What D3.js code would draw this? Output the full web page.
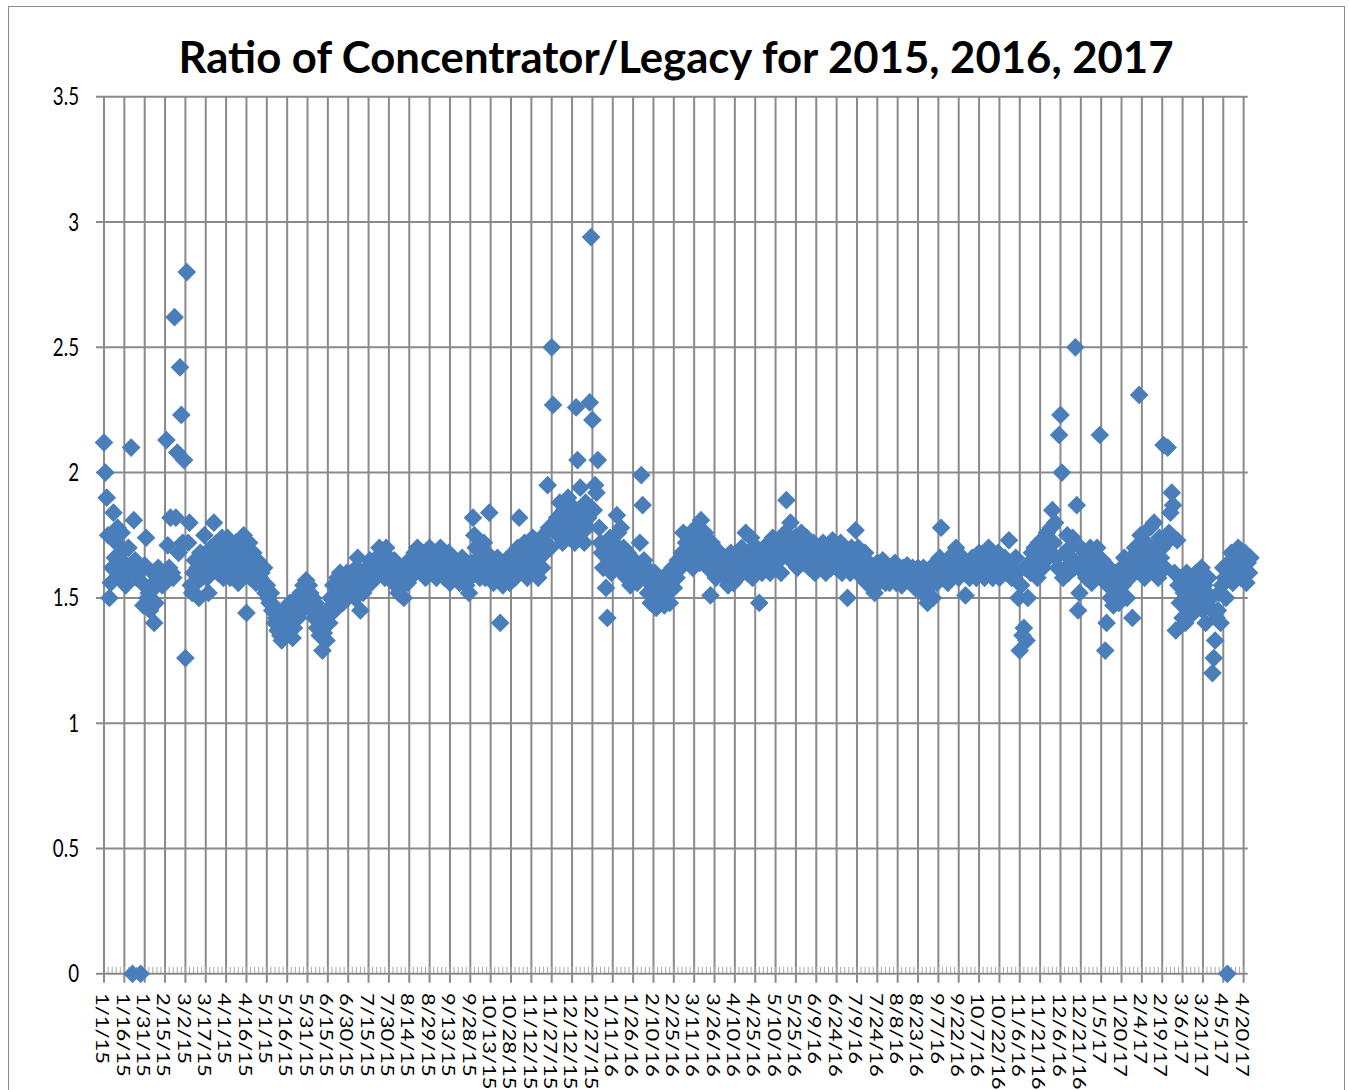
<!DOCTYPE html>
<html>
<head>
<meta charset="utf-8">
<script src="https://cdn.jsdelivr.net/npm/d3@7"></script>
<style>
  body { margin: 0; background: #fff; }
  svg { display: block; }
</style>
</head>
<body>
<svg id="chart" width="1349" height="1090"></svg>
<script>
// daily ratio values, one array per month
const jan15 = [2.12, 2.00, 1.90, 1.75, 1.50, 1.56, 1.62, 1.84, 1.66, 1.72, 1.78, 1.60, 1.68, 1.76, 1.58, 1.64, 1.55, 1.62, 1.70, 1.60, 2.10, 0, 1.81, 1.65, 1.58, 1.62, 1.60, 0, 1.56, 1.47, 1.63];
const feb15 = [1.74, 1.50, 1.52, 1.45, 1.55, 1.60, 1.40, 1.48, 1.55, 1.62, 1.60, 1.58, 1.55, 1.60, 1.56, 2.13, 1.71, 1.62, 1.82, 1.60, 1.58, 2.62, 1.82, 2.08, 1.68, 2.42, 2.23, 1.72];
const mar15 = [2.05, 1.26, 2.80, 1.72, 1.80, 1.55, 1.52, 1.60, 1.65, 1.56, 1.62, 1.50, 1.68, 1.58, 1.62, 1.75, 1.66, 1.58, 1.52, 1.60, 1.70, 1.62, 1.80, 1.65, 1.72, 1.60, 1.70, 1.62, 1.74, 1.58, 1.66];
const apr15 = [1.68, 1.74, 1.62, 1.58, 1.70, 1.66, 1.60, 1.72, 1.64, 1.56, 1.68, 1.62, 1.70, 1.75, 1.60, 1.44, 1.66, 1.72, 1.58, 1.64, 1.68, 1.60, 1.56, 1.65, 1.62, 1.58, 1.60, 1.55, 1.62, 1.52];
const may15 = [1.55, 1.50, 1.48, 1.52, 1.45, 1.47, 1.40, 1.42, 1.37, 1.44, 1.35, 1.33, 1.40, 1.38, 1.45, 1.36, 1.42, 1.48, 1.40, 1.34, 1.38, 1.45, 1.50, 1.42, 1.48, 1.52, 1.45, 1.55, 1.50, 1.57, 1.48];
const jun15 = [1.55, 1.52, 1.45, 1.50, 1.42, 1.48, 1.38, 1.45, 1.35, 1.40, 1.29, 1.36, 1.42, 1.33, 1.45, 1.40, 1.50, 1.47, 1.55, 1.45, 1.52, 1.58, 1.50, 1.60, 1.55, 1.48, 1.58, 1.52, 1.60, 1.55];
const jul15 = [1.55, 1.60, 1.52, 1.58, 1.50, 1.62, 1.66, 1.55, 1.45, 1.58, 1.52, 1.60, 1.55, 1.62, 1.58, 1.65, 1.56, 1.60, 1.63, 1.58, 1.66, 1.62, 1.70, 1.60, 1.68, 1.64, 1.58, 1.70, 1.62, 1.66, 1.60];
const aug15 = [1.62, 1.58, 1.65, 1.55, 1.60, 1.52, 1.58, 1.62, 1.55, 1.50, 1.60, 1.64, 1.56, 1.62, 1.58, 1.66, 1.60, 1.68, 1.63, 1.70, 1.62, 1.66, 1.60, 1.68, 1.64, 1.58, 1.66, 1.62, 1.70, 1.60, 1.65];
const sep15 = [1.62, 1.68, 1.58, 1.65, 1.60, 1.70, 1.62, 1.66, 1.58, 1.64, 1.60, 1.68, 1.56, 1.62, 1.66, 1.60, 1.58, 1.64, 1.62, 1.56, 1.60, 1.66, 1.58, 1.62, 1.55, 1.60, 1.52, 1.58, 1.64, 1.82];
const oct15 = [1.75, 1.70, 1.65, 1.60, 1.58, 1.66, 1.62, 1.72, 1.58, 1.68, 1.62, 1.84, 1.65, 1.60, 1.56, 1.62, 1.58, 1.66, 1.60, 1.40, 1.62, 1.55, 1.58, 1.64, 1.60, 1.66, 1.56, 1.62, 1.60, 1.68, 1.58];
const nov15 = [1.65, 1.70, 1.82, 1.62, 1.68, 1.60, 1.72, 1.64, 1.58, 1.70, 1.66, 1.62, 1.74, 1.60, 1.68, 1.72, 1.58, 1.66, 1.70, 1.62, 1.75, 1.68, 1.72, 1.95, 1.78, 1.70, 2.50, 2.27, 1.80, 1.76];
const dec15 = [1.82, 1.75, 1.88, 1.78, 1.72, 1.85, 1.80, 1.76, 1.90, 1.74, 1.82, 1.78, 1.86, 1.72, 2.26, 2.05, 1.80, 1.94, 1.76, 1.84, 1.72, 1.88, 1.78, 1.82, 2.28, 2.94, 2.21, 1.85, 1.95, 1.92, 2.05];
const jan16 = [1.78, 1.72, 1.68, 1.62, 1.70, 1.54, 1.42, 1.65, 1.74, 1.60, 1.68, 1.72, 1.62, 1.83, 1.76, 1.66, 1.78, 1.60, 1.70, 1.64, 1.58, 1.68, 1.62, 1.55, 1.66, 1.60, 1.58, 1.64, 1.56, 1.62, 1.72];
const feb16 = [1.99, 1.87, 1.65, 1.58, 1.62, 1.52, 1.56, 1.48, 1.55, 1.50, 1.60, 1.46, 1.52, 1.48, 1.56, 1.50, 1.58, 1.47, 1.55, 1.52, 1.60, 1.48, 1.56, 1.62, 1.54, 1.60, 1.58, 1.65, 1.62];
const mar16 = [1.62, 1.68, 1.76, 1.65, 1.72, 1.70, 1.66, 1.74, 1.68, 1.62, 1.72, 1.78, 1.66, 1.70, 1.64, 1.81, 1.74, 1.68, 1.76, 1.70, 1.62, 1.66, 1.51, 1.72, 1.64, 1.70, 1.58, 1.66, 1.62, 1.68, 1.60];
const apr16 = [1.62, 1.58, 1.66, 1.60, 1.55, 1.64, 1.68, 1.60, 1.56, 1.62, 1.66, 1.58, 1.64, 1.60, 1.70, 1.62, 1.66, 1.76, 1.60, 1.68, 1.62, 1.74, 1.58, 1.66, 1.64, 1.70, 1.62, 1.48, 1.66, 1.60];
const may16 = [1.64, 1.70, 1.62, 1.68, 1.72, 1.60, 1.66, 1.74, 1.62, 1.68, 1.64, 1.70, 1.66, 1.60, 1.72, 1.68, 1.76, 1.89, 1.72, 1.66, 1.80, 1.70, 1.64, 1.74, 1.68, 1.62, 1.72, 1.66, 1.76, 1.70, 1.64];
const jun16 = [1.68, 1.74, 1.66, 1.62, 1.70, 1.64, 1.72, 1.60, 1.66, 1.70, 1.62, 1.68, 1.64, 1.72, 1.66, 1.60, 1.68, 1.70, 1.64, 1.62, 1.73, 1.66, 1.70, 1.62, 1.68, 1.64, 1.72, 1.60, 1.66, 1.62];
const jul16 = [1.64, 1.50, 1.66, 1.60, 1.70, 1.62, 1.68, 1.77, 1.64, 1.70, 1.60, 1.66, 1.58, 1.62, 1.68, 1.56, 1.60, 1.64, 1.55, 1.62, 1.58, 1.52, 1.60, 1.64, 1.56, 1.62, 1.58, 1.65, 1.60, 1.56, 1.62];
const aug16 = [1.60, 1.56, 1.62, 1.58, 1.60, 1.64, 1.56, 1.60, 1.62, 1.58, 1.55, 1.62, 1.60, 1.57, 1.63, 1.58, 1.60, 1.56, 1.62, 1.58, 1.54, 1.60, 1.62, 1.56, 1.58, 1.52, 1.62, 1.56, 1.60, 1.48, 1.58];
const sep16 = [1.55, 1.62, 1.50, 1.58, 1.64, 1.56, 1.60, 1.66, 1.78, 1.62, 1.58, 1.64, 1.60, 1.56, 1.66, 1.62, 1.58, 1.64, 1.60, 1.70, 1.62, 1.58, 1.64, 1.60, 1.66, 1.62, 1.51, 1.60, 1.64, 1.58];
const oct16 = [1.62, 1.66, 1.60, 1.64, 1.58, 1.62, 1.68, 1.60, 1.64, 1.62, 1.58, 1.66, 1.60, 1.70, 1.62, 1.64, 1.58, 1.66, 1.60, 1.62, 1.68, 1.58, 1.64, 1.60, 1.62, 1.66, 1.60, 1.64, 1.73, 1.62, 1.58];
const nov16 = [1.62, 1.58, 1.66, 1.60, 1.50, 1.29, 1.55, 1.35, 1.38, 1.62, 1.33, 1.50, 1.64, 1.60, 1.68, 1.62, 1.70, 1.66, 1.58, 1.72, 1.64, 1.70, 1.62, 1.74, 1.68, 1.76, 1.66, 1.72, 1.78, 1.85];
const dec16 = [1.72, 1.80, 1.66, 1.62, 2.15, 2.23, 2.00, 1.58, 1.68, 1.62, 1.75, 1.60, 1.70, 1.66, 1.74, 1.62, 2.50, 1.87, 1.45, 1.52, 1.70, 1.64, 1.60, 1.68, 1.58, 1.66, 1.62, 1.70, 1.56, 1.64, 1.60];
const jan17 = [1.66, 1.70, 1.62, 2.15, 1.58, 1.65, 1.60, 1.29, 1.40, 1.55, 1.62, 1.50, 1.58, 1.47, 1.54, 1.60, 1.52, 1.48, 1.58, 1.62, 1.55, 1.66, 1.60, 1.50, 1.64, 1.58, 1.66, 1.42, 1.60, 1.70, 1.62];
const feb17 = [1.68, 2.31, 1.75, 1.62, 1.70, 1.58, 1.72, 1.65, 1.60, 1.78, 1.66, 1.62, 1.80, 1.70, 1.64, 1.58, 1.74, 1.66, 1.70, 2.11, 1.62, 1.72, 2.10, 1.76, 1.84, 1.92, 1.87, 1.60];
const mar17 = [1.37, 1.73, 1.55, 1.48, 1.58, 1.42, 1.52, 1.40, 1.60, 1.46, 1.55, 1.50, 1.58, 1.44, 1.52, 1.60, 1.48, 1.56, 1.50, 1.62, 1.45, 1.55, 1.40, 1.52, 1.58, 1.46, 1.50, 1.20, 1.26, 1.33, 1.42];
const apr17 = [1.45, 1.52, 1.40, 1.55, 1.62, 1.58, 1.50, 0, 1.64, 1.60, 1.68, 1.56, 1.62, 1.66, 1.60, 1.70, 1.64, 1.58, 1.66, 1.62, 1.68, 1.56, 1.64, 1.60, 1.66];

const months = [jan15, feb15, mar15, apr15, may15, jun15, jul15, aug15, sep15, oct15, nov15, dec15,
  jan16, feb16, mar16, apr16, may16, jun16, jul16, aug16, sep16, oct16, nov16, dec16,
  jan17, feb17, mar17, apr17];

const yTicks = [0, 0.5, 1, 1.5, 2, 2.5, 3, 3.5];
const yTickLabels = ['0', '0.5', '1', '1.5', '2', '2.5', '3', '3.5'];

const startDate = new Date(Date.UTC(2015, 0, 1));
const endDate = new Date(Date.UTC(2017, 3, 23));
const title = 'Ratio of Concentrator/Legacy for 2015, 2016, 2017';

// build dated points
let points = [];
months.forEach((vals, mi) => {
  let yr = 2015 + Math.floor(mi / 12), m = mi % 12;
  vals.forEach((v, i) => points.push({ date: new Date(Date.UTC(yr, m, i + 1)), value: v }));
});

let svg = d3.select('#chart');
let plotLeft = 104, plotRight = 1247.7, plotTop = 96.7, plotBottom = 973.8;

let x = d3.scaleUtc().domain([startDate, endDate]).range([plotLeft, plotRight]);
let y = d3.scaleLinear().domain([0, 3.5]).range([plotBottom, plotTop]);

let majorTicks = d3.range(0, 841, 15).map(d => d3.utcDay.offset(startDate, d));
let minorTicks = d3.range(0, 843, 3).map(d => d3.utcDay.offset(startDate, d));
let fmt = d => (d.getUTCMonth() + 1) + '/' + d.getUTCDate() + '/' + String(d.getUTCFullYear()).slice(2);

let gridColor = '#8a8a8a';

// chart border
svg.append('rect')
  .attr('x', 8.5).attr('y', 6.5)
  .attr('width', 1336).attr('height', 1100)
  .attr('fill', 'none').attr('stroke', '#8a8a8a').attr('stroke-width', 1);

// title
svg.append('text')
  .attr('x', 676).attr('y', 73)
  .attr('text-anchor', 'middle')
  .attr('textLength', 995).attr('lengthAdjust', 'spacingAndGlyphs')
  .style('font-family', 'Lato, sans-serif').style('font-weight', 'bold').style('font-size', '43px')
  .text(title);

// horizontal grid
svg.append('g')
  .selectAll('line').data(yTicks.filter(v => v > 0)).join('line')
  .attr('x1', plotLeft - 8).attr('x2', plotRight)
  .attr('y1', d => y(d)).attr('y2', d => y(d))
  .attr('stroke', gridColor).attr('stroke-width', 2);

// vertical grid + major ticks
svg.append('g')
  .selectAll('line').data(majorTicks).join('line')
  .attr('x1', d => x(d)).attr('x2', d => x(d))
  .attr('y1', plotTop).attr('y2', plotBottom + 9)
  .attr('stroke', gridColor).attr('stroke-width', 2);

// minor ticks
svg.append('g')
  .selectAll('line').data(minorTicks).join('line')
  .attr('x1', d => x(d)).attr('x2', d => x(d))
  .attr('y1', plotBottom - 7).attr('y2', plotBottom)
  .attr('stroke', '#a8a8a8').attr('stroke-width', 1);

// axes lines
svg.append('line')
  .attr('x1', plotLeft).attr('x2', plotRight)
  .attr('y1', plotBottom).attr('y2', plotBottom)
  .attr('stroke', gridColor).attr('stroke-width', 2);
svg.append('line')
  .attr('x1', plotLeft).attr('x2', plotLeft)
  .attr('y1', plotTop).attr('y2', plotBottom)
  .attr('stroke', gridColor).attr('stroke-width', 2);
svg.append('line')
  .attr('x1', plotLeft - 8).attr('x2', plotLeft)
  .attr('y1', plotBottom).attr('y2', plotBottom)
  .attr('stroke', gridColor).attr('stroke-width', 2);

// y labels
svg.append('g')
  .selectAll('text').data(yTicks).join('text')
  .attr('transform', d => `translate(79,${y(d) + 8.5}) scale(0.75,1)`)
  .attr('text-anchor', 'end')
  .style('font-family', 'Lato, sans-serif').style('font-size', '25px')
  .text((d, i) => yTickLabels[i]);

// x labels, rotated
svg.append('g')
  .selectAll('text').data(majorTicks).join('text')
  .attr('transform', d => `translate(${x(d) - 2},993) rotate(90) scale(1,0.75)`)
  .attr('dy', '0.35em')
  .style('font-family', 'Lato, sans-serif').style('font-size', '22px')
  .text(fmt);

// markers
let diamond = d3.symbol().type(d3.symbolSquare).size(175);
svg.append('g')
  .selectAll('path').data(points).join('path')
  .attr('transform', d => `translate(${x(d.date)},${y(d.value)}) rotate(45)`)
  .attr('d', diamond)
  .attr('fill', '#4a7ebb');
</script>
</body>
</html>
